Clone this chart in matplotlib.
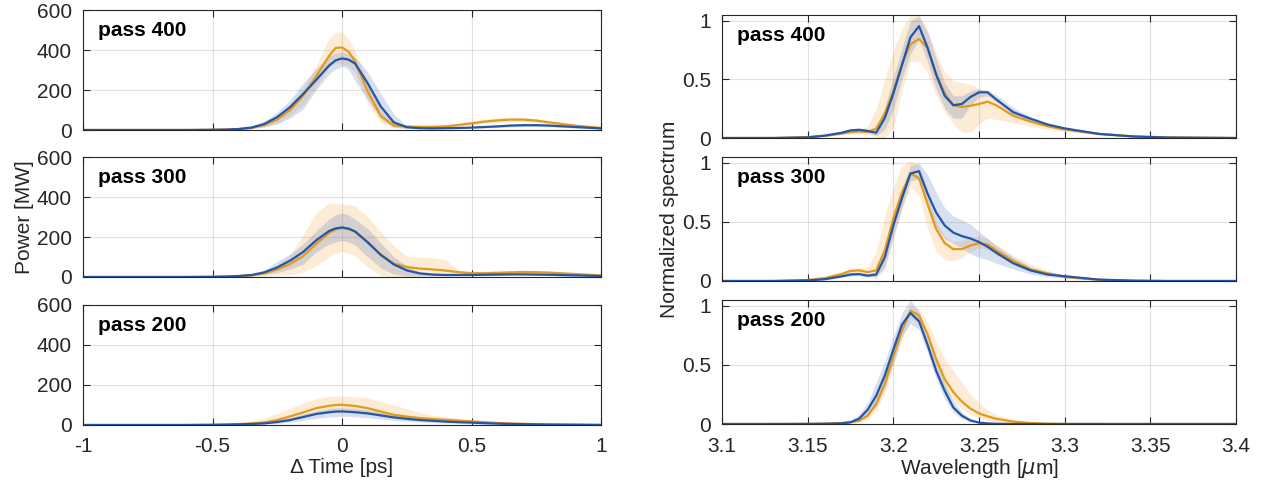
import numpy as np
import matplotlib
matplotlib.use("Agg")
import matplotlib.pyplot as plt

plt.rcParams['font.family'] = ['Liberation Sans', 'DejaVu Sans']

# ---- time domain data (power, MW) ----
t = [-1, -0.8, -0.6, -0.5, -0.45, -0.4, -0.35, -0.3, -0.25, -0.2, -0.15, -0.1, -0.05, -0.025, 0,
     0.025, 0.05, 0.1, 0.15, 0.2, 0.25, 0.3, 0.35, 0.4, 0.45, 0.5, 0.55, 0.6, 0.65, 0.7, 0.75, 0.8, 0.9, 1.0]

p400_orange = [0, 0, 0, 1, 2, 4, 10, 24, 52, 100, 172, 268, 370, 410, 413,
               392, 345, 190, 70, 22, 17, 16, 16, 18, 25, 33, 42, 48, 52, 52, 47, 38, 22, 10]
p400_orange_lo = [0, 0, 0, 0, 1, 2, 6, 16, 35, 72, 125, 215, 315, 335, 330,
                  320, 290, 130, 35, 10, 10, 10, 10, 12, 17, 24, 32, 38, 42, 42, 38, 30, 16, 6]
p400_orange_hi = [0, 0, 0, 2, 4, 7, 15, 33, 65, 130, 210, 320, 460, 490, 490,
                  455, 395, 245, 100, 35, 25, 23, 24, 27, 35, 44, 54, 60, 64, 63, 57, 47, 28, 14]
p400_blue = [0, 0, 0, 1, 2, 5, 12, 30, 65, 115, 180, 250, 322, 348, 358,
             352, 333, 232, 117, 38, 14, 9, 8, 9, 10, 12, 15, 18, 22, 24, 24, 22, 15, 8]
p400_blue_lo = [0, 0, 0, 0, 1, 3, 7, 15, 30, 60, 105, 200, 280, 305, 318,
                305, 245, 150, 55, 15, 6, 5, 5, 6, 7, 8, 10, 12, 15, 17, 17, 16, 10, 5]
p400_blue_hi = [0, 0, 0, 2, 4, 8, 20, 45, 90, 150, 235, 305, 370, 385, 390,
                380, 365, 290, 180, 80, 20, 12, 12, 13, 14, 17, 21, 25, 30, 32, 31, 28, 20, 11]

p300_orange = [0, 0, 0, 1, 2, 4, 8, 18, 38, 65, 105, 165, 220, 238, 245,
               240, 228, 175, 112, 67, 50, 42, 38, 32, 24, 19, 19, 21, 23, 25, 24, 22, 15, 8]
p300_orange_lo = [0, 0, 0, 0, 0, 1, 2, 5, 8, 12, 25, 55, 100, 118, 128,
                  120, 105, 50, 8, 2, 3, 5, 6, 6, 7, 10, 11, 13, 15, 16, 16, 14, 9, 4]
p300_orange_hi = [0, 0, 0, 2, 4, 8, 15, 30, 60, 110, 210, 320, 370, 368, 365,
                  362, 355, 300, 225, 155, 105, 98, 96, 85, 35, 28, 28, 30, 32, 34, 32, 29, 20, 11]
p300_blue = [0, 0, 0, 1, 2, 5, 10, 23, 48, 82, 125, 183, 230, 243, 248,
             242, 228, 172, 110, 63, 33, 18, 12, 10, 10, 10, 11, 12, 13, 13, 12, 11, 8, 5]
p300_blue_lo = [0, 0, 0, 0, 1, 2, 5, 12, 22, 40, 65, 125, 165, 175, 183,
                175, 160, 100, 45, 15, 5, 4, 5, 5, 6, 6, 7, 8, 9, 9, 8, 7, 5, 3]
p300_blue_hi = [0, 0, 0, 2, 4, 8, 16, 35, 78, 115, 165, 230, 290, 310, 320,
                310, 290, 240, 170, 100, 55, 25, 17, 15, 14, 14, 15, 16, 17, 17, 16, 15, 11, 7]

p200_orange = [0, 0, 0, 1, 2, 4, 8, 13, 25, 43, 63, 84, 96, 100, 101,
               98, 95, 84, 67, 51, 42, 35, 30, 26, 22, 18, 14, 10, 8, 6, 4, 3, 2, 1]
p200_orange_lo = [0, 0, 0, 0, 1, 2, 4, 7, 14, 24, 38, 52, 60, 62, 63,
                  62, 60, 52, 42, 32, 26, 22, 19, 16, 13, 10, 8, 6, 4, 3, 2, 1, 1, 0]
p200_orange_hi = [0, 0, 0, 2, 4, 10, 20, 35, 58, 84, 110, 132, 143, 145, 145,
                  143, 141, 135, 118, 100, 82, 62, 50, 40, 33, 28, 22, 17, 13, 10, 7, 5, 3, 1]
p200_blue = [0, 0, 0, 1, 2, 3, 5, 8, 15, 25, 40, 55, 64, 67, 68,
             66, 64, 58, 48, 38, 31, 25, 21, 17, 14, 12, 9, 7, 5, 4, 3, 2, 1, 0]
p200_blue_lo = [0, 0, 0, 0, 1, 2, 3, 4, 8, 14, 24, 33, 40, 42, 44,
                43, 41, 36, 30, 23, 18, 15, 12, 10, 8, 6, 5, 4, 3, 2, 1, 1, 0, 0]
p200_blue_hi = [0, 0, 0, 2, 3, 5, 8, 13, 23, 37, 55, 72, 82, 85, 86,
                85, 82, 76, 64, 52, 42, 34, 29, 24, 20, 17, 13, 10, 7, 5, 4, 3, 1, 0]

# ---- spectral data (normalized) ----
wl = [3.1, 3.13, 3.15, 3.16, 3.17, 3.175, 3.18, 3.185, 3.19, 3.195, 3.2, 3.205, 3.21, 3.215,
      3.22, 3.225, 3.23, 3.235, 3.24, 3.245, 3.25, 3.255, 3.26, 3.27, 3.28, 3.29, 3.3, 3.32,
      3.34, 3.36, 3.4]

s400_orange = [0, 0, 0.008, 0.02, 0.04, 0.05, 0.055, 0.052, 0.08, 0.21, 0.40, 0.63, 0.80, 0.845,
               0.77, 0.55, 0.38, 0.28, 0.265, 0.275, 0.29, 0.31, 0.28, 0.19, 0.14, 0.10, 0.072, 0.035,
               0.014, 0.005, 0]
s400_orange_lo = [0, 0, 0.004, 0.012, 0.025, 0.03, 0.035, 0.03, 0.01, 0.0, 0.08, 0.40, 0.65, 0.66,
                  0.56, 0.36, 0.22, 0.12, 0.05, 0.05, 0.12, 0.17, 0.16, 0.13, 0.10, 0.075, 0.055, 0.025,
                  0.008, 0.002, 0]
s400_orange_hi = [0, 0, 0.012, 0.03, 0.055, 0.065, 0.075, 0.10, 0.25, 0.50, 0.75, 0.93, 1.05, 1.05,
                  0.92, 0.72, 0.56, 0.49, 0.47, 0.46, 0.42, 0.37, 0.33, 0.24, 0.17, 0.12, 0.09, 0.045,
                  0.02, 0.008, 0]
s400_blue = [0, 0, 0.005, 0.02, 0.045, 0.065, 0.07, 0.06, 0.045, 0.17, 0.38, 0.62, 0.86, 0.955,
             0.77, 0.54, 0.36, 0.28, 0.29, 0.35, 0.39, 0.39, 0.33, 0.22, 0.165, 0.115, 0.082, 0.035,
             0.013, 0.004, 0]
s400_blue_lo = [0, 0, 0.003, 0.012, 0.032, 0.05, 0.055, 0.045, 0.02, 0.07, 0.24, 0.50, 0.72, 0.84,
                0.65, 0.42, 0.25, 0.17, 0.17, 0.28, 0.35, 0.36, 0.31, 0.20, 0.15, 0.10, 0.072, 0.03,
                0.01, 0.003, 0]
s400_blue_hi = [0, 0, 0.008, 0.028, 0.058, 0.078, 0.085, 0.075, 0.075, 0.26, 0.52, 0.76, 1.0, 1.04,
                0.90, 0.68, 0.47, 0.36, 0.36, 0.40, 0.42, 0.41, 0.37, 0.26, 0.18, 0.13, 0.092, 0.04,
                0.016, 0.005, 0]

s300_orange = [0, 0, 0.008, 0.025, 0.06, 0.085, 0.09, 0.075, 0.09, 0.26, 0.53, 0.75, 0.91, 0.87,
               0.65, 0.44, 0.32, 0.27, 0.27, 0.30, 0.32, 0.31, 0.26, 0.17, 0.10, 0.065, 0.035, 0.01,
               0.002, 0, 0]
s300_orange_lo = [0, 0, 0.004, 0.015, 0.04, 0.06, 0.065, 0.05, 0.02, 0.10, 0.35, 0.60, 0.80, 0.72,
                  0.45, 0.25, 0.18, 0.17, 0.20, 0.25, 0.28, 0.27, 0.22, 0.14, 0.08, 0.05, 0.025, 0.006,
                  0.001, 0, 0]
s300_orange_hi = [0, 0, 0.012, 0.035, 0.08, 0.105, 0.11, 0.12, 0.25, 0.55, 0.80, 0.97, 1.02, 0.98,
                  0.75, 0.50, 0.38, 0.33, 0.34, 0.37, 0.38, 0.36, 0.31, 0.22, 0.14, 0.09, 0.05, 0.015,
                  0.004, 0, 0]
s300_blue = [0, 0, 0.005, 0.015, 0.04, 0.055, 0.058, 0.045, 0.055, 0.20, 0.47, 0.70, 0.91, 0.93,
             0.74, 0.58, 0.47, 0.41, 0.38, 0.36, 0.33, 0.29, 0.24, 0.15, 0.09, 0.055, 0.04, 0.012,
             0.003, 0, 0]
s300_blue_lo = [0, 0, 0.003, 0.01, 0.03, 0.042, 0.045, 0.035, 0.035, 0.12, 0.38, 0.62, 0.85, 0.86,
                0.62, 0.45, 0.36, 0.32, 0.28, 0.23, 0.20, 0.18, 0.15, 0.10, 0.06, 0.035, 0.025, 0.007,
                0.002, 0, 0]
s300_blue_hi = [0, 0, 0.007, 0.02, 0.05, 0.068, 0.07, 0.06, 0.08, 0.28, 0.55, 0.78, 0.98, 1.0,
                0.90, 0.75, 0.62, 0.55, 0.52, 0.48, 0.42, 0.36, 0.30, 0.20, 0.12, 0.075, 0.055, 0.018,
                0.005, 0, 0]

s200_orange = [0, 0, 0.001, 0.003, 0.008, 0.015, 0.028, 0.07, 0.17, 0.34, 0.57, 0.79, 0.96, 0.92,
               0.76, 0.55, 0.38, 0.27, 0.19, 0.13, 0.09, 0.065, 0.045, 0.02, 0.008, 0.003, 0.001, 0,
               0, 0, 0]
s200_orange_lo = [0, 0, 0, 0.001, 0.004, 0.008, 0.015, 0.04, 0.11, 0.26, 0.48, 0.72, 0.90, 0.86,
                  0.68, 0.45, 0.29, 0.19, 0.13, 0.08, 0.05, 0.03, 0.02, 0.008, 0.003, 0.001, 0, 0,
                  0, 0, 0]
s200_orange_hi = [0, 0, 0.002, 0.005, 0.012, 0.022, 0.04, 0.10, 0.23, 0.42, 0.65, 0.86, 1.0, 0.98,
                  0.86, 0.70, 0.55, 0.45, 0.35, 0.25, 0.18, 0.12, 0.08, 0.04, 0.015, 0.005, 0.002, 0,
                  0, 0, 0]
s200_blue = [0, 0, 0.001, 0.002, 0.006, 0.015, 0.045, 0.12, 0.24, 0.41, 0.63, 0.84, 0.94, 0.87,
             0.67, 0.45, 0.28, 0.14, 0.07, 0.03, 0.012, 0.005, 0.002, 0, 0, 0, 0, 0,
             0, 0, 0]
s200_blue_lo = [0, 0, 0, 0.001, 0.003, 0.008, 0.025, 0.07, 0.15, 0.30, 0.52, 0.74, 0.85, 0.80,
                0.60, 0.38, 0.21, 0.10, 0.045, 0.018, 0.006, 0.002, 0.001, 0, 0, 0, 0, 0,
                0, 0, 0]
s200_blue_hi = [0, 0, 0.002, 0.004, 0.012, 0.03, 0.08, 0.18, 0.35, 0.53, 0.74, 0.94, 1.05, 0.95,
                0.74, 0.52, 0.35, 0.19, 0.10, 0.045, 0.02, 0.008, 0.003, 0, 0, 0, 0, 0,
                0, 0, 0]

pass_labels = ['pass 400', 'pass 300', 'pass 200']

ORANGE = '#E39A1C'
BLUE = '#2356A8'
ORANGE_FILL = '#F29B2E'
BLUE_FILL = '#3A66B8'
TXT = '#262626'
FS = 15

time_sets = [
    (p400_orange, p400_orange_lo, p400_orange_hi, p400_blue, p400_blue_lo, p400_blue_hi),
    (p300_orange, p300_orange_lo, p300_orange_hi, p300_blue, p300_blue_lo, p300_blue_hi),
    (p200_orange, p200_orange_lo, p200_orange_hi, p200_blue, p200_blue_lo, p200_blue_hi),
]
spec_sets = [
    (s400_orange, s400_orange_lo, s400_orange_hi, s400_blue, s400_blue_lo, s400_blue_hi),
    (s300_orange, s300_orange_lo, s300_orange_hi, s300_blue, s300_blue_lo, s300_blue_hi),
    (s200_orange, s200_orange_lo, s200_orange_hi, s200_blue, s200_blue_lo, s200_blue_hi),
]

fig = plt.figure(figsize=(12.66, 4.86), dpi=100)

W, H = 1266.0, 486.0
left_rows = [(10, 130), (157, 277), (305, 425)]
right_rows = [(15, 138), (157, 281), (300, 424)]


def style_axes(ax):
    ax.tick_params(direction='in', length=5, width=0.8, colors=TXT, labelsize=FS,
                   top=True, right=True)
    ax.tick_params(axis='x', pad=9)
    ax.tick_params(axis='y', pad=8)
    for sp in ax.spines.values():
        sp.set_color(TXT)
        sp.set_linewidth(0.8)
    ax.grid(True, color='#262626', alpha=0.13, linewidth=0.8)
    ax.set_axisbelow(True)


def draw(ax, x, data):
    o, olo, ohi, b, blo, bhi = data
    ax.fill_between(x, olo, ohi, color=ORANGE_FILL, alpha=0.2, linewidth=0)
    ax.fill_between(x, blo, bhi, color=BLUE_FILL, alpha=0.2, linewidth=0)
    ax.plot(x, o, color=ORANGE, linewidth=1.6)
    ax.plot(x, b, color=BLUE, linewidth=1.6)


left_axes = []
for i, (top, bot) in enumerate(left_rows):
    ax = fig.add_axes([83 / W, 1 - bot / H, 518 / W, (bot - top) / H])
    draw(ax, t, time_sets[i])
    ax.set_xlim(-1, 1)
    ax.set_ylim(0, 600)
    ax.set_yticks([0, 200, 400, 600])
    ax.set_xticks([-1, -0.5, 0, 0.5, 1])
    style_axes(ax)
    if i < 2:
        ax.set_xticklabels([])
    else:
        ax.set_xticklabels(['-1', '-0.5', '0', '0.5', '1'])
        ax.set_xlabel('\u0394 Time [ps]', fontsize=FS, color=TXT, labelpad=1)
    ax.text(0.029, 0.833, pass_labels[i], transform=ax.transAxes, fontsize=15,
            fontweight='bold', va='center', ha='left', color='black')
    left_axes.append(ax)

left_axes[1].set_ylabel('Power [MW]', fontsize=FS, color=TXT, labelpad=2)

right_axes = []
for i, (top, bot) in enumerate(right_rows):
    ax = fig.add_axes([722 / W, 1 - bot / H, 514 / W, (bot - top) / H])
    draw(ax, wl, spec_sets[i])
    ax.set_xlim(3.1, 3.4)
    ax.set_ylim(0, 1.05)
    ax.set_yticks([0, 0.5, 1])
    ax.set_yticklabels(['0', '0.5', '1'])
    ax.set_xticks([3.1, 3.15, 3.2, 3.25, 3.3, 3.35, 3.4])
    style_axes(ax)
    if i < 2:
        ax.set_xticklabels([])
    else:
        ax.set_xticklabels(['3.1', '3.15', '3.2', '3.25', '3.3', '3.35', '3.4'])
        ax.set_xlabel(r'Wavelength [$\mu$m]', fontsize=FS, color=TXT, labelpad=1)
    ax.text(0.029, 0.837, pass_labels[i], transform=ax.transAxes, fontsize=15,
            fontweight='bold', va='center', ha='left', color='black')
    right_axes.append(ax)

right_axes[1].set_ylabel('Normalized spectrum', fontsize=FS, color=TXT, labelpad=2)

fig.savefig('out.png', dpi=100)
